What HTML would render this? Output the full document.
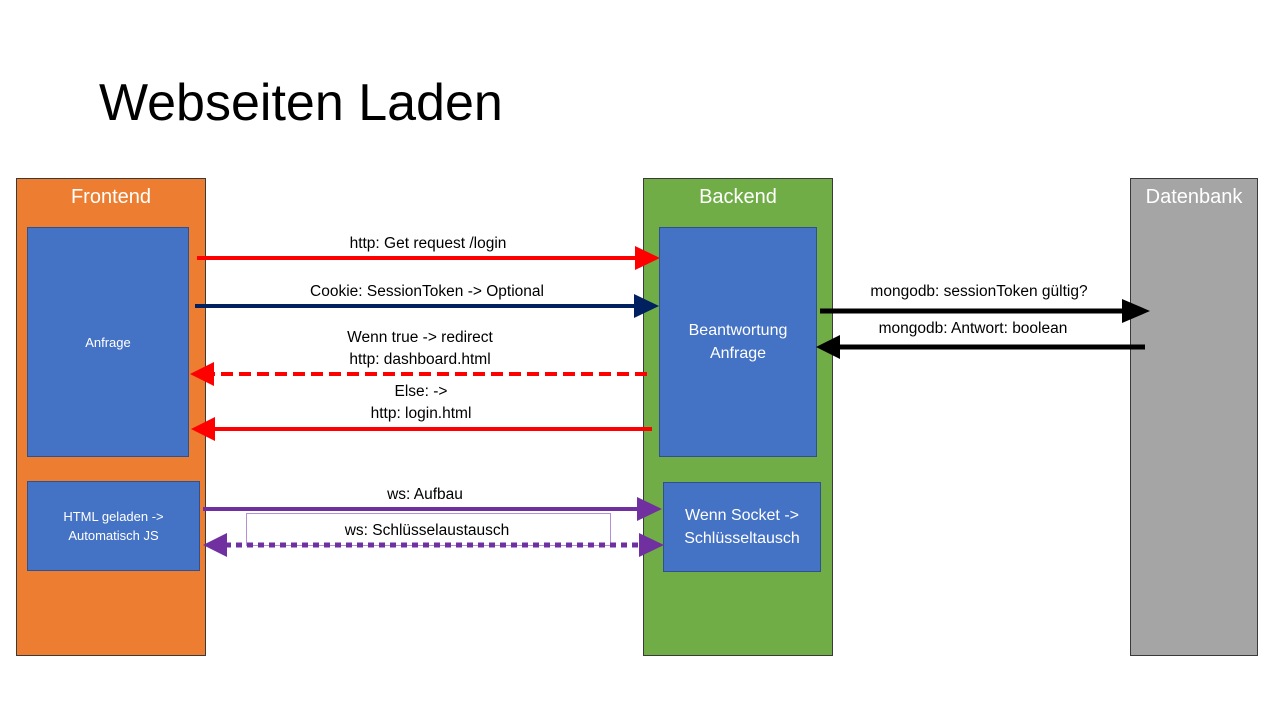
<!DOCTYPE html>
<html><head><meta charset="utf-8"><style>
body{margin:0;width:1280px;height:720px;background:#fff;position:relative;overflow:hidden;font-family:"Liberation Sans",sans-serif}
.b{position:absolute;box-sizing:border-box}
.lane{border:1px solid #3a3a3a}
.blue{background:#4472C4;border:1px solid #2F528F;color:#fff;display:flex;align-items:center;justify-content:center;text-align:center}
.hd{position:absolute;left:0;right:0;top:7px;text-align:center;color:#fff;font-size:20px}
</style></head><body>
<div class="b" style="left:99px;top:73px;font-size:52px;color:#000">Webseiten Laden</div>
<div class="b lane" style="left:16px;top:178px;width:190px;height:478px;background:#ED7D31"><div class="hd">Frontend</div></div>
<div class="b lane" style="left:643px;top:178px;width:190px;height:478px;background:#70AD47"><div class="hd">Backend</div></div>
<div class="b lane" style="left:1130px;top:178px;width:128px;height:478px;background:#A5A5A5"><div class="hd">Datenbank</div></div>
<div class="b blue" style="left:27px;top:227px;width:162px;height:230px;font-size:13px">Anfrage</div>
<div class="b blue" style="left:27px;top:481px;width:173px;height:90px;font-size:13px;line-height:19px">HTML geladen -&gt;<br>Automatisch JS</div>
<div class="b blue" style="left:659px;top:227px;width:158px;height:230px;font-size:16px;line-height:23px">Beantwortung<br>Anfrage</div>
<div class="b blue" style="left:663px;top:482px;width:158px;height:90px;font-size:16px;line-height:23px">Wenn Socket -&gt;<br>Schlüsseltausch</div>
<svg class="b" style="left:0;top:0" width="1280" height="720">
<rect x="246.5" y="513.5" width="364" height="32" fill="none" stroke="#B18FDB" stroke-width="1"/>
<g stroke-width="4" fill="none">
<line x1="197" y1="258" x2="638" y2="258" stroke="#FF0000"/>
<line x1="195" y1="306" x2="638" y2="306" stroke="#002060"/>
<line x1="647" y1="374" x2="212" y2="374" stroke="#FF0000" stroke-dasharray="12,6"/>
<line x1="652" y1="429" x2="212" y2="429" stroke="#FF0000"/>
<line x1="820" y1="311" x2="1125" y2="311" stroke="#000" stroke-width="5"/>
<line x1="1145" y1="347" x2="840" y2="347" stroke="#000" stroke-width="5"/>
<line x1="203" y1="509" x2="640" y2="509" stroke="#7030A0"/>
<line x1="225" y1="545" x2="640" y2="545" stroke="#7030A0" stroke-width="5" stroke-dasharray="6,5"/>
</g>
<polygon points="635,246 660,258 635,270" fill="#FF0000"/>
<polygon points="634,294 659,306 634,318" fill="#002060"/>
<polygon points="214,362 190,374 214,386" fill="#FF0000"/>
<polygon points="215,417 191,429 215,441" fill="#FF0000"/>
<polygon points="1122,299 1150,311 1122,323" fill="#000"/>
<polygon points="840,335 816,347 840,359" fill="#000"/>
<polygon points="637,497 662,509 637,521" fill="#7030A0"/>
<polygon points="227,533 203,545 227,557" fill="#7030A0"/>
<polygon points="639,533 664,545 639,557" fill="#7030A0"/>
<g font-size="15.5" fill="#000" text-anchor="middle" font-family="Liberation Sans,sans-serif">
<text x="428" y="248">http: Get request /login</text>
<text x="427" y="296">Cookie: SessionToken -&gt; Optional</text>
<text x="420" y="342">Wenn true -&gt; redirect</text>
<text x="420" y="364">http: dashboard.html</text>
<text x="421" y="396">Else: -&gt;</text>
<text x="421" y="418">http: login.html</text>
<text x="979" y="296">mongodb: sessionToken gültig?</text>
<text x="973" y="333">mongodb: Antwort: boolean</text>
<text x="425" y="499">ws: Aufbau</text>
<text x="427" y="535">ws: Schlüsselaustausch</text>
</g>
</svg>
</body></html>
